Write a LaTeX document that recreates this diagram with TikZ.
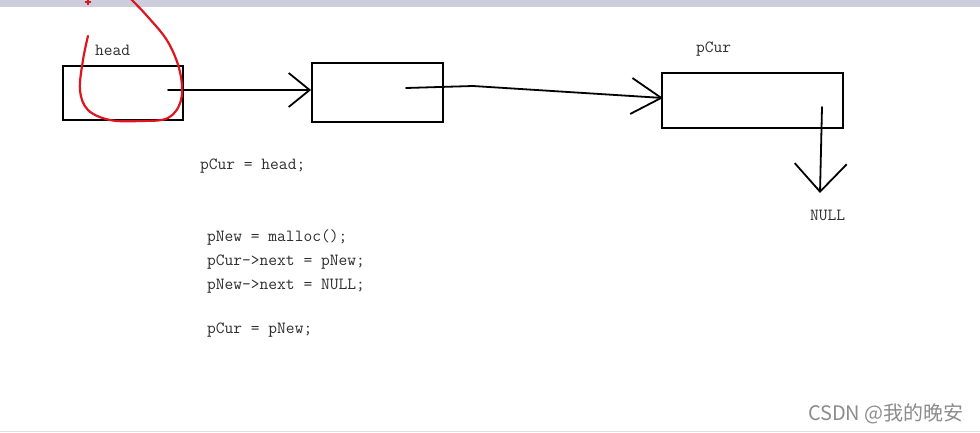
\documentclass[tikz,border=0pt]{standalone}
\usepackage{fontspec}
\setmonofont{Latin Modern Mono}
\newfontfamily\cjk{Noto Sans CJK SC}
\usetikzlibrary{arrows.meta,positioning}
\definecolor{bandgray}{RGB}{205,205,222}
\definecolor{inkred}{RGB}{222,20,30}
\definecolor{txtgray}{RGB}{45,45,45}
\tikzset{
  cell/.style={draw,line width=1.8pt,inner sep=0pt},
  code/.style={anchor=base west,inner sep=0pt,text=txtgray,font=\fontsize{17}{20}\selectfont\ttfamily},
  link/.style={line width=1.8pt,line cap=round}
}
\begin{document}
\begin{tikzpicture}[x=1pt,y=-1pt]
  \useasboundingbox (0,0) rectangle (980,433);
  \fill[bandgray] (0,0) rectangle (980,7);
  \draw[black!12,line width=1pt] (0,431) -- (980,431);

  \node[cell,minimum width=120pt,minimum height=54pt] (head) at (123,93) {};
  \node[cell,minimum width=131pt,minimum height=59pt] (second) at (377.5,92.5) {};
  \node[cell,minimum width=181pt,minimum height=55pt] (cur) at (752.5,100.5) {};

  \node[code] (headlbl) at (95,56) {head};
  \node[code] (curlbl) at (696,53) {pCur};
  \node[code] (nulllbl) at (810,220) {NULL};

  \coordinate (p1) at (168,90);
  \coordinate (p2) at (406,88);
  \coordinate (bend) at (473,86);
  \coordinate (p3) at (822,107);
  \coordinate (q2) at (663,98);
  \coordinate (q3) at (820,193);

  \draw[link,-{Straight Barb[length=21pt,width=34pt]}] (p1) -- (second.west |- p1);
  \draw[link,-{Straight Barb[length=30pt,width=36pt]}] (p2) -- (bend) -- (q2);
  \draw[link,-{Straight Barb[length=28pt,width=52pt]}] (p3) -- (q3);

  \node[code] (c1) at (200,169) {pCur = head;};
  \node[code] (c2) at (207,241) {pNew = malloc();};
  \node[code] (c3) at (207,265) {pCur->next = pNew;};
  \node[code] (c4) at (207,289) {pNew->next = NULL;};
  \node[code] (c5) at (207,333) {pCur = pNew;};

  \begin{scope}
    \clip (0,0) rectangle (980,433);
    \draw[inkred,line width=2.2pt,line cap=round] plot[smooth,tension=0.6] coordinates {(88,36) (83,60) (80,90) (88,110) (110,120) (140,121) (168,118) (181,100) (180,72) (168,42) (148,17) (128,-4)};
    \draw[inkred,line width=1.4pt] (88,-1) -- (88,5) (85,2) -- (91,2);
  \end{scope}

  \node[anchor=base east,inner sep=0pt,text=black!45,font=\fontsize{20}{24}\selectfont\cjk] (mark) at (964,420) {CSDN @我的晚安};
\end{tikzpicture}
\end{document}
